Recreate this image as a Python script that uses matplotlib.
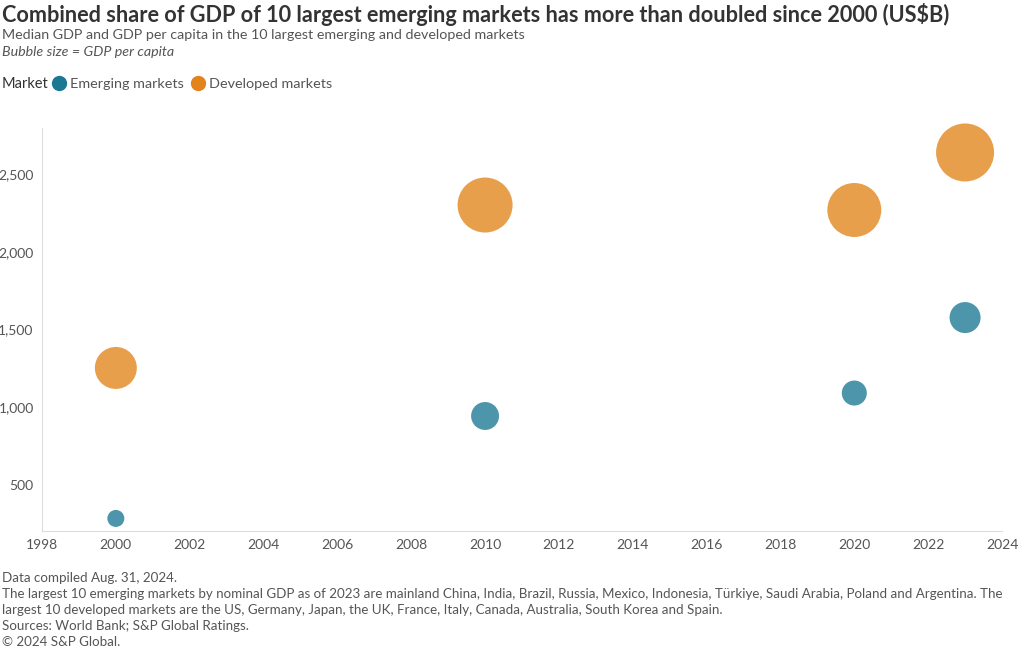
import matplotlib.pyplot as plt
from matplotlib.lines import Line2D
from matplotlib.ticker import FuncFormatter

plt.rcParams["font.family"] = ["Lato", "DejaVu Sans"]

years = [2000, 2010, 2020, 2023]
emerging_gdp = [281, 942, 1090, 1577]
developed_gdp = [1252, 2303, 2271, 2642]
# median GDP per capita (US$)
emerging_gdppc = [4300, 11600, 9300, 14300]
developed_gdppc = [26200, 45000, 43300, 50000]

teal = "#1b7893"
orange = "#e2841a"
grey = "#555555"

fig = plt.figure(figsize=(10.2, 6.5), dpi=100)
ax = fig.add_axes([42 / 1020, 119 / 650, 960 / 1020, 403 / 650])

size_k = 1744 / 50000  # points^2 per US$
ax.scatter(years, developed_gdp, s=[v * size_k for v in developed_gdppc],
           color=orange, alpha=0.78, edgecolors="none", zorder=3, clip_on=False)
ax.scatter(years, emerging_gdp, s=[v * size_k for v in emerging_gdppc],
           color=teal, alpha=0.78, edgecolors="none", zorder=3, clip_on=False)

ax.set_xlim(1998, 2024)
ax.set_ylim(200, 2800)
ax.set_xticks(range(1998, 2025, 2))
ax.set_yticks([500, 1000, 1500, 2000, 2500])
ax.yaxis.set_major_formatter(FuncFormatter(lambda v, p: f"{int(v):,}"))
ax.tick_params(length=0, labelsize=10, labelcolor=grey, pad=6)
for side in ["top", "right"]:
    ax.spines[side].set_visible(False)
for side in ["left", "bottom"]:
    ax.spines[side].set_color("#dddddd")

fig.text(0.002, 1 - 14 / 650, "Combined share of GDP of 10 largest emerging markets has more than doubled since 2000 (US$B)",
         fontsize=15.6, fontweight="bold", color="#333333", va="center")
fig.text(0.002, 1 - 35 / 650, "Median GDP and GDP per capita in the 10 largest emerging and developed markets",
         fontsize=10.25, color=grey, va="center")
fig.text(0.002, 1 - 52 / 650, "Bubble size = GDP per capita",
         fontsize=10.25, color=grey, va="center", style="italic")

fig.text(0.002, 1 - 84 / 650, "Market", fontsize=10.5, color="#333333", va="center")
handles = [
    Line2D([], [], marker="o", linestyle="none", markersize=10, color=teal, label="Emerging markets"),
    Line2D([], [], marker="o", linestyle="none", markersize=10, color=orange, label="Developed markets"),
]
fig.legend(handles=handles, loc="center left", bbox_to_anchor=(50 / 1020, 1 - 84 / 650),
           ncol=2, frameon=False, fontsize=10.4, handletextpad=0.2, columnspacing=0.35,
           handlelength=1.2, borderpad=0, borderaxespad=0, labelcolor=grey)

footer = [
    "Data compiled Aug. 31, 2024.",
    "The largest 10 emerging markets by nominal GDP as of 2023 are mainland China, India, Brazil, Russia, Mexico, Indonesia, Türkiye, Saudi Arabia, Poland and Argentina. The",
    "largest 10 developed markets are the US, Germany, Japan, the UK, France, Italy, Canada, Australia, South Korea and Spain.",
    "Sources: World Bank; S&P Global Ratings.",
    "© 2024 S&P Global.",
]
for i, line in enumerate(footer):
    fig.text(0.002, 1 - (578 + 16 * i) / 650, line, fontsize=9.65, color=grey, va="center")

fig.savefig("out.png", dpi=100)
